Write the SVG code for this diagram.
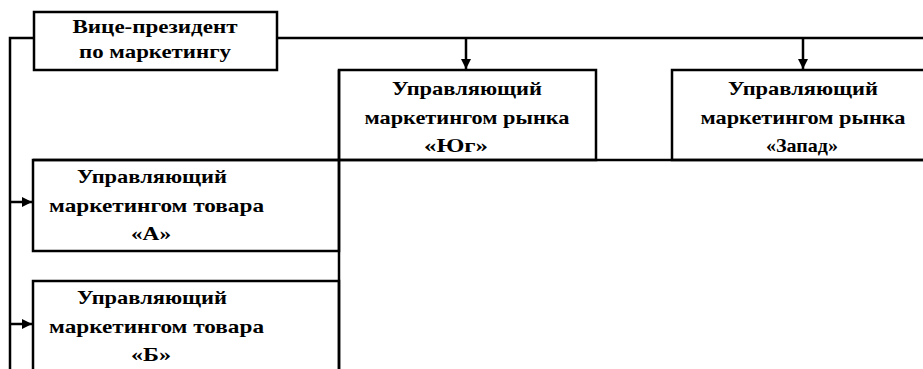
<svg xmlns="http://www.w3.org/2000/svg" width="923" height="369" viewBox="0 0 923 369">
<style>
.box{fill:none;stroke:#000;stroke-width:2.5}
.ln{fill:none;stroke:#000;stroke-width:2.5}
.t{font-family:"Liberation Serif","Times New Roman",serif;font-weight:bold;font-size:19px;fill:#000;text-anchor:middle}
</style>
<defs>
<marker id="ah" viewBox="0 0 10 10" refX="10" refY="5" markerWidth="4" markerHeight="4" orient="auto" markerUnits="strokeWidth">
<path d="M0,0 L10,5 L0,10 Z" fill="#000"/>
</marker>
</defs>
<rect width="923" height="369" fill="#fff"/>
<g id="frame-lines">
<line class="ln" x1="33" y1="160" x2="923" y2="160"/>
<line class="ln" x1="339" y1="70" x2="339" y2="369"/>
</g>
<g id="connectors">
<path class="ln" d="M277,38 H923"/>
<path class="ln" d="M34,38 H10 V369"/>
<line class="ln" x1="466" y1="38" x2="466" y2="69" marker-end="url(#ah)"/>
<line class="ln" x1="803" y1="38" x2="803" y2="69" marker-end="url(#ah)"/>
<line class="ln" x1="10" y1="202" x2="32" y2="202" marker-end="url(#ah)"/>
<line class="ln" x1="10" y1="324" x2="32" y2="324" marker-end="url(#ah)"/>
</g>
<g id="vp">
<rect class="box" x="34" y="12" width="243" height="58"/>
<text class="t" x="155" y="33" textLength="165" lengthAdjust="spacingAndGlyphs">Вице-президент</text>
<text class="t" x="155" y="58" textLength="152" lengthAdjust="spacingAndGlyphs">по маркетингу</text>
</g>
<g id="market-south">
<rect class="box" x="339" y="70" width="257" height="90"/>
<text class="t" x="467" y="95" textLength="150" lengthAdjust="spacingAndGlyphs">Управляющий</text>
<text class="t" x="467" y="124" textLength="205" lengthAdjust="spacingAndGlyphs">маркетингом рынка</text>
<text class="t" x="456" y="152" textLength="64" lengthAdjust="spacingAndGlyphs">«Юг»</text>
</g>
<g id="market-west">
<rect class="box" x="672" y="70" width="262" height="90"/>
<text class="t" x="803" y="95" textLength="150" lengthAdjust="spacingAndGlyphs">Управляющий</text>
<text class="t" x="803" y="124" textLength="205" lengthAdjust="spacingAndGlyphs">маркетингом рынка</text>
<text class="t" x="802" y="152" textLength="72" lengthAdjust="spacingAndGlyphs">«Запад»</text>
</g>
<g id="product-a">
<rect class="box" x="33" y="160" width="306" height="91"/>
<text class="t" x="152" y="183" textLength="150" lengthAdjust="spacingAndGlyphs">Управляющий</text>
<text class="t" x="156.5" y="212" textLength="215" lengthAdjust="spacingAndGlyphs">маркетингом товара</text>
<text class="t" x="151" y="240" textLength="40" lengthAdjust="spacingAndGlyphs">«А»</text>
</g>
<g id="product-b">
<rect class="box" x="33" y="281" width="306" height="100"/>
<text class="t" x="152" y="304" textLength="150" lengthAdjust="spacingAndGlyphs">Управляющий</text>
<text class="t" x="156.5" y="333" textLength="215" lengthAdjust="spacingAndGlyphs">маркетингом товара</text>
<text class="t" x="151" y="361" textLength="40" lengthAdjust="spacingAndGlyphs">«Б»</text>
</g>
</svg>
